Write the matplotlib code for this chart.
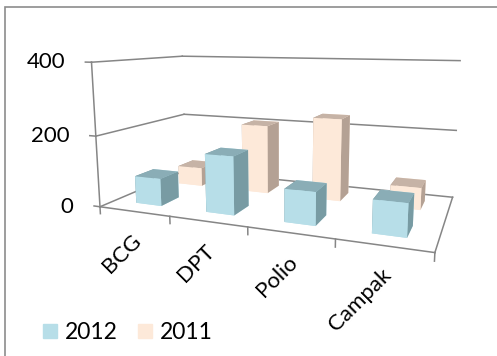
import matplotlib.pyplot as plt
import numpy as np
from matplotlib.patches import Patch, Rectangle
from mpl_toolkits.mplot3d import proj3d

categories = ['BCG', 'DPT', 'Polio', 'Campak']
series = ['2012', '2011']
values_2012 = [78, 160, 88, 85]
values_2011 = [57, 205, 238, 62]
zticks = [0, 200, 400]

front_cols = {'2012': '#B7DEE8', '2011': '#FDE9D9'}
top_cols = {'2012': '#8AADB6', '2011': '#C6B3A6'}
side_cols = {'2012': '#789BA3', '2011': '#B4A194'}
line_col = '#868686'

plt.rcParams['font.family'] = ['Lato', 'DejaVu Sans']

fig = plt.figure(figsize=(4.97, 3.56), dpi=100)
ax = fig.add_axes([28 / 497, 40 / 356, 1, 1], projection='3d', computed_zorder=False)
ax.set_proj_type('persp', focal_length=0.29)
ax.view_init(elev=10.0, azim=-68.5)
ax.set_box_aspect((2.56, 1.29, 1.13), zoom=1.06)
ax.set_axis_off()

n = len(categories)
bw, bd = 0.37, 0.4
xs = np.arange(n) + 0.5 - bw / 2

# back row first so the front row is drawn over it
for row, name, vals in [(1, '2011', values_2011), (0, '2012', values_2012)]:
    faces = [front_cols[name], top_cols[name], front_cols[name],
             front_cols[name], side_cols[name], side_cols[name]]
    ax.bar3d(xs, np.full(n, row + 0.3), np.zeros(n), bw, bd, vals,
             color=faces * n, shade=False, edgecolor='none', linewidth=0,
             zorder=3 - row)

zmax = zticks[-1]
ymax = len(series)
kw = dict(color=line_col, lw=1.1, zorder=1, clip_on=False)
# walls and floor
ax.plot([0, 0], [0, 0], [0, zmax], **kw)
for z in zticks:
    ax.plot([-0.09, 0], [0, 0], [z, z], **kw)
    ax.plot([0, n], [ymax, ymax], [z, z], **kw)
    if z > 0:
        ax.plot([0, 0], [0, ymax], [z, z], **kw)
ax.plot([0, n], [0, 0], [0, 0], **kw)
ax.plot([n, n], [0, ymax], [0, 0], **kw)
ax.plot([0, 0], [0, ymax], [0, 0], **kw)
for i in range(n + 1):
    ax.plot([i, i], [0, 0], [0, -20], **kw)

ax.set_xlim(0, n)
ax.set_ylim(0, ymax)
ax.set_zlim(0, zmax)

fig.canvas.draw()
M = ax.get_proj()
for z in zticks:
    px, py, _ = proj3d.proj_transform(0, 0, z, M)
    ax.annotate(str(z), (px, py), xycoords='data', xytext=(-19, 0),
                textcoords='offset points', ha='right', va='center',
                fontsize=16, annotation_clip=False)
for i, cat in enumerate(categories):
    px, py, _ = proj3d.proj_transform(i + 0.5, 0, 0, M)
    ax.annotate(cat, (px, py), xycoords='data', xytext=(3, -19),
                textcoords='offset points', ha='right', va='center',
                rotation=45, rotation_mode='anchor', fontsize=16,
                annotation_clip=False)

handles = [Patch(color=front_cols[s], label=s) for s in series]
fig.legend(handles=handles, loc='lower left', bbox_to_anchor=(43 / 497, 13 / 356),
           ncol=2, frameon=False, fontsize=16.5, borderpad=0, borderaxespad=0,
           handlelength=0.62, handleheight=0.62, handletextpad=0.35,
           columnspacing=0.85)

fig.add_artist(Rectangle((5 / 497, -0.1), 1.2, 1.1 - 7.5 / 356, transform=fig.transFigure,
                         fill=False, ec='#8C8C8C', lw=1.2))

fig.savefig('out.png', dpi=100)
